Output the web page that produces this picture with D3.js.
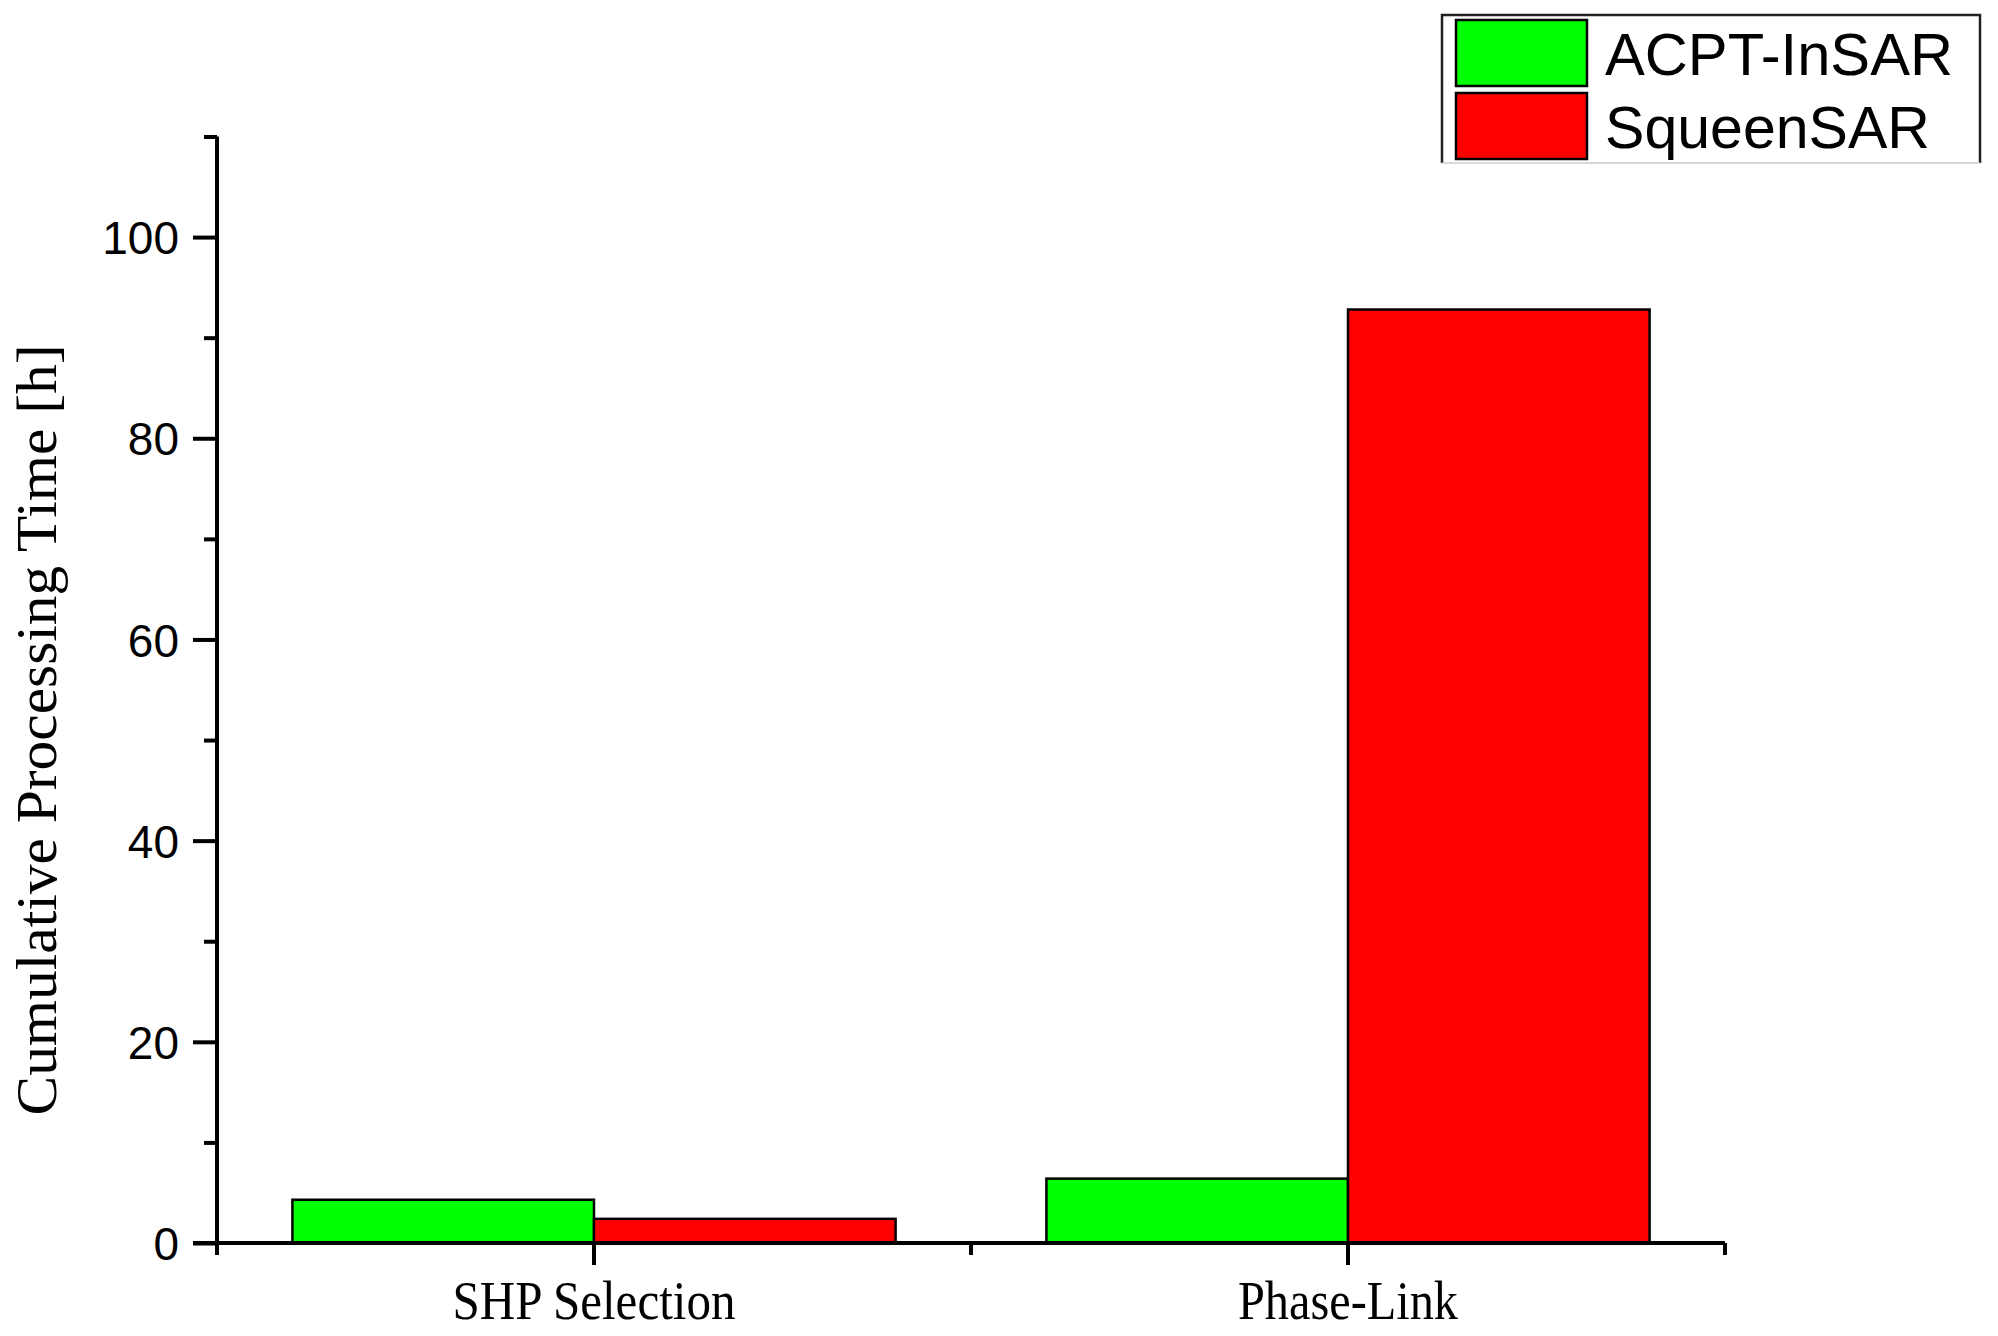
<!DOCTYPE html>
<html>
<head>
<meta charset="utf-8">
<script src="https://cdn.jsdelivr.net/npm/d3@7"></script>
<style>
  html, body { margin: 0; padding: 0; background: #fff; }
  svg { display: block; }
</style>
</head>
<body>
<svg id="chart" width="1998" height="1336"></svg>
<script>
// ---- data ----
const categories = ["SHP Selection", "Phase-Link"];
const seriesNames = ["ACPT-InSAR", "SqueenSAR"];
const acptValues = [4.3, 6.4];
const squeenValues = [2.4, 92.8];
const seriesColors = ["#00ff00", "#ff0000"];
const yMajorTicks = [0, 20, 40, 60, 80, 100];
const yMinorTicks = [10, 30, 50, 70, 90, 110];
const yAxisTitle = "Cumulative Processing Time [h]";

const seriesValues = [acptValues, squeenValues];

const svg = d3.select("#chart");
const plotLeft = 217, plotRight = 1725, plotTop = 136.5, plotBottom = 1243;

const x = d3.scaleBand().domain(categories).range([plotLeft, plotRight]).padding(0);
const xs = d3.scaleBand().domain(seriesNames)
  .range([x.bandwidth() * 0.1, x.bandwidth() * 0.9]).padding(0);
const y = d3.scaleLinear().domain([0, 110]).range([plotBottom, plotTop]);

// bars
const rows = [];
categories.forEach((c, i) => seriesNames.forEach((s, j) => rows.push({c, s, v: seriesValues[j][i], color: seriesColors[j]})));
svg.append("g").selectAll("rect").data(rows).join("rect")
  .attr("x", d => x(d.c) + xs(d.s))
  .attr("y", d => y(d.v))
  .attr("width", xs.bandwidth())
  .attr("height", d => y(0) - y(d.v))
  .attr("fill", d => d.color)
  .attr("stroke", "#000")
  .attr("stroke-width", 2.5);

// y axis (major)
const yAxisG = svg.append("g").attr("transform", `translate(${plotLeft},0)`)
  .call(d3.axisLeft(y).tickValues(yMajorTicks).tickSize(24).tickPadding(14).tickFormat(d3.format("d")));
yAxisG.select(".domain").attr("stroke-width", 4).attr("d", `M0,${plotBottom}V${plotTop}`);
yAxisG.selectAll(".tick line").attr("stroke-width", 4);
yAxisG.selectAll(".tick text")
  .attr("font-family", "'Liberation Sans', Arial, sans-serif")
  .attr("font-size", 46).attr("fill", "#000").attr("dy", "0.36em");
// y axis (minor)
const yMinorG = svg.append("g").attr("transform", `translate(${plotLeft},0)`)
  .call(d3.axisLeft(y).tickValues(yMinorTicks).tickSize(13).tickFormat(""));
yMinorG.select(".domain").remove();
yMinorG.selectAll(".tick line").attr("stroke-width", 4);

// x axis (major ticks at category centres)
const xAxisG = svg.append("g").attr("transform", `translate(0,${plotBottom})`)
  .call(d3.axisBottom(x).tickSize(22).tickPadding(16));
xAxisG.select(".domain").attr("stroke-width", 4).attr("d", `M${plotLeft - 24},0H${plotRight}`);
xAxisG.selectAll(".tick line").attr("stroke-width", 4);
xAxisG.selectAll(".tick text")
  .attr("font-family", "'Liberation Serif', 'Times New Roman', serif")
  .attr("font-size", 54).attr("fill", "#000")
  .attr("textLength", (d, i) => [283, 220][i]).attr("lengthAdjust", "spacingAndGlyphs");
// minor x ticks at band edges
const edges = [x(categories[0])].concat(categories.map(c => x(c) + x.bandwidth()));
svg.append("g").selectAll("line").data(edges).join("line")
  .attr("x1", d => d).attr("x2", d => d)
  .attr("y1", plotBottom).attr("y2", plotBottom + 12)
  .attr("stroke", "#000").attr("stroke-width", 4);

// y axis title
svg.append("text")
  .attr("transform", `translate(56,730) rotate(-90)`)
  .attr("text-anchor", "middle")
  .attr("font-family", "'Liberation Serif', 'Times New Roman', serif")
  .attr("font-size", 58).attr("fill", "#000")
  .attr("textLength", 771).attr("lengthAdjust", "spacingAndGlyphs")
  .text(yAxisTitle);

// legend
const lg = svg.append("g");
lg.append("path").attr("d", "M1442,163V15H1980V163")
  .attr("fill", "none").attr("stroke", "#222").attr("stroke-width", 2.5);
lg.append("line").attr("x1", 1442).attr("x2", 1980).attr("y1", 163).attr("y2", 163)
  .attr("stroke", "#ccc").attr("stroke-width", 1.5);
const swY = [20, 93];
seriesNames.forEach((s, j) => {
  lg.append("rect").attr("x", 1456).attr("y", swY[j]).attr("width", 131).attr("height", 66)
    .attr("fill", seriesColors[j]).attr("stroke", "#000").attr("stroke-width", 2.5);
  lg.append("text").attr("x", 1605).attr("y", swY[j] + 33)
    .attr("dy", "0.36em")
    .attr("font-family", "'Liberation Sans', Arial, sans-serif")
    .attr("font-size", 60).attr("fill", "#000")
    .attr("textLength", [348, 325][j]).attr("lengthAdjust", "spacingAndGlyphs")
    .text(s);
});
</script>
</body>
</html>
